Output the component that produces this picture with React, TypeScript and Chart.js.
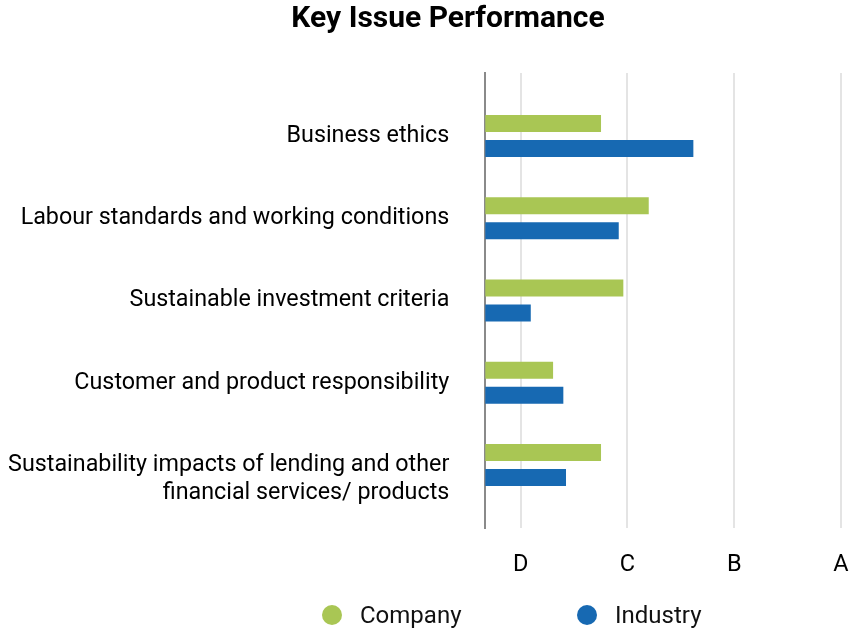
import React, { useEffect, useRef } from "react";
import { Chart, registerables } from "chart.js";

Chart.register(...registerables);

const categories: (string | string[])[] = [
  "Business ethics",
  "Labour standards and working conditions",
  "Sustainable investment criteria",
  "Customer and product responsibility",
  ["Sustainability impacts of lending and other", "financial services/ products"],
];
// category positions on the (reversed) linear index axis
const categoryIndex = [0, 1, 2, 3, 4];
// where each category label is anchored (last one is a two-line label whose first line sits on the row)
const labelAnchors = [0, 1, 2, 3, 4.17];

const companyScores = [1.752, 2.199, 1.961, 1.303, 1.752];
const industryScores = [2.617, 1.918, 1.094, 1.399, 1.424];

const gradeValues = [1, 2, 3, 4];
const gradeLabels = ["D", "C", "B", "A"];

const COMPANY_COLOR = "#a9c654";
const INDUSTRY_COLOR = "#1769b2";
const FONT = "Roboto";
const PAD_LEFT = 55;
const PAD_RIGHT = 24;

const unclipLabels = {
  id: "unclipLabels",
  afterLayout(chart: any) {
    const y = chart.scales.y;
    if (y) y.left = 0;
  },
};

export default function App() {
  const canvasRef = useRef<HTMLCanvasElement | null>(null);

  useEffect(() => {
    if (!canvasRef.current) return;
    const chart = new Chart(canvasRef.current, {
      type: "bar",
      data: {
        datasets: [
          {
            label: "Company",
            data: companyScores.map((v, i) => ({ x: v, y: categoryIndex[i] })),
            backgroundColor: COMPANY_COLOR,
            categoryPercentage: 0.613,
            barPercentage: 0.675,
          },
          {
            label: "Industry",
            data: industryScores.map((v, i) => ({ x: v, y: categoryIndex[i] })),
            backgroundColor: INDUSTRY_COLOR,
            categoryPercentage: 0.613,
            barPercentage: 0.675,
          },
        ],
      },
      plugins: [unclipLabels],
      options: {
        indexAxis: "y",
        responsive: false,
        animation: false,
        layout: { padding: { left: PAD_LEFT, right: PAD_RIGHT, top: 0, bottom: 56 } },
        plugins: {
          legend: { display: false },
          tooltip: { enabled: false },
          title: {
            display: true,
            text: "Key Issue Performance",
            color: "#000",
            font: { family: FONT, size: 30, weight: "bold", lineHeight: 1.2 },
            padding: { top: 1, bottom: 36 },
          },
        },
        scales: {
          x: {
            type: "linear",
            min: 0.668,
            max: 4,
            afterBuildTicks: (scale: any) => {
              scale.ticks = gradeValues.map((v) => ({ value: v }));
            },
            afterFit: (scale: any) => {
              scale.height = 50;
            },
            ticks: {
              callback: (value: any) => gradeLabels[gradeValues.indexOf(Number(value))] ?? "",
              color: "#000",
              font: { family: FONT, size: 23.5 },
              padding: 0,
              maxRotation: 0,
            },
            grid: {
              color: "#e4e4e4",
              lineWidth: 2,
              drawTicks: true,
              tickLength: 23,
              tickColor: "rgba(0,0,0,0)",
            },
            border: { display: false },
          },
          y: {
            type: "linear",
            reverse: true,
            offset: false,
            min: -0.766,
            max: 4.766,
            afterBuildTicks: (scale: any) => {
              scale.ticks = labelAnchors.map((v) => ({ value: v }));
            },
            afterFit: (scale: any) => {
              scale.width = 485.3 - PAD_LEFT;
            },
            ticks: {
              callback: (_value: any, index: number) => categories[index],
              color: "#000",
              font: { family: FONT, size: 23.3, lineHeight: 1.2 },
              padding: 36,
              labelOffset: 0,
            },
            grid: { display: false, drawTicks: false, offset: false },
            border: { display: true, color: "#8a8a8a", width: 2 },
          },
        },
      },
    } as any);
    return () => chart.destroy();
  }, []);

  const legendItem = (left: number, color: string, text: string) => (
    <div
      style={{
        position: "absolute",
        left,
        top: 603,
        height: 24,
        display: "flex",
        alignItems: "center",
      }}
    >
      <span
        style={{
          display: "inline-block",
          width: 20,
          height: 20,
          borderRadius: "50%",
          background: color,
          marginRight: 18,
        }}
      />
      <span style={{ fontFamily: FONT, fontSize: 24, color: "#111", lineHeight: "24px" }}>{text}</span>
    </div>
  );

  return (
    <div style={{ position: "fixed", left: 0, top: 0, width: 865, height: 634, background: "#fff" }}>
      <canvas ref={canvasRef} width={865} height={634} style={{ display: "block" }} />
      {legendItem(322, COMPANY_COLOR, "Company")}
      {legendItem(577, INDUSTRY_COLOR, "Industry")}
    </div>
  );
}
